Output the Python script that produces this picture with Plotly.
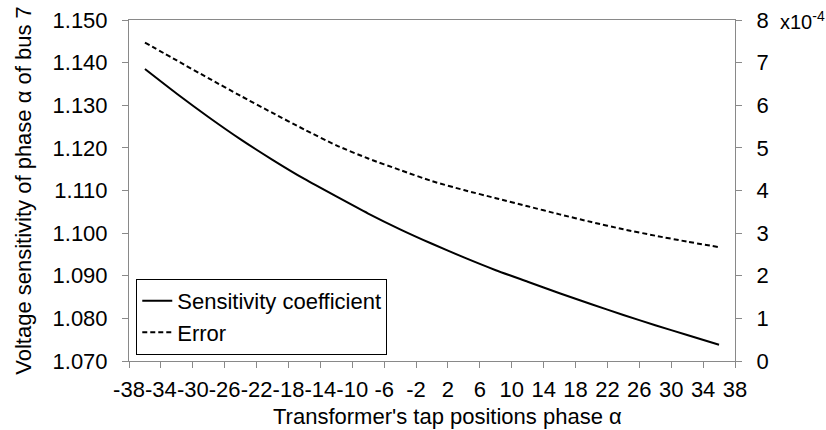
import plotly.graph_objects as go

# Tap positions of the transformer (phase a)
tap_positions = [-36, -32, -28, -24, -20, -16, -12, -8, -4, 0,
                 4, 8, 12, 16, 20, 24, 28, 32, 36]

# Voltage sensitivity coefficient of phase a, bus 7
sensitivity = [1.1385, 1.1327, 1.1272, 1.1220, 1.1172, 1.1127, 1.1086,
               1.1046, 1.1009, 1.0975, 1.0943, 1.0913, 1.0886, 1.0859,
               1.0833, 1.0808, 1.0784, 1.0761, 1.0738]

# Approximation error, in units of 1e-4
error_x1e4 = [7.47, 7.05, 6.63, 6.22, 5.82, 5.43, 5.06, 4.75, 4.48, 4.22,
              4.01, 3.82, 3.63, 3.44, 3.26, 3.09, 2.94, 2.80, 2.67]

x_ticks = list(range(-38, 39, 4))
left_ticks = [1.07 + 0.01 * i for i in range(9)]
right_ticks = list(range(0, 9))

FONT = "Liberation Sans, Arial, sans-serif"
FS = 22
AXIS_GRAY = "#898989"

fig = go.Figure()
fig.add_trace(go.Scatter(
    x=tap_positions, y=sensitivity, mode="lines",
    name="Sensitivity coefficient",
    line=dict(color="black", width=2, shape="spline", smoothing=0.6),
))
fig.add_trace(go.Scatter(
    x=tap_positions, y=error_x1e4, mode="lines",
    name="Error", yaxis="y2",
    line=dict(color="black", width=2, dash="5px,3px",
              shape="spline", smoothing=0.6),
))

fig.update_layout(
    width=826, height=430,
    margin=dict(l=129, r=91, t=20, b=69, autoexpand=False),
    paper_bgcolor="white", plot_bgcolor="white",
    font=dict(family=FONT, size=FS, color="black"),
    showlegend=True,
    legend=dict(
        x=0.012, y=0.018, xanchor="left", yanchor="bottom",
        bgcolor="white", bordercolor="black", borderwidth=1,
        font=dict(family=FONT, size=FS, color="black"),
        tracegroupgap=0, itemwidth=30,
    ),
    xaxis=dict(
        range=[-38, 38], tickvals=x_ticks, ticktext=[str(v) for v in x_ticks],
        tickangle=0, automargin=False,
        showgrid=False, zeroline=False,
        showline=True, linecolor=AXIS_GRAY, linewidth=1, mirror=True,
        ticks="outside", ticklen=6, tickcolor=AXIS_GRAY,
        ticklabelstandoff=3,
        tickfont=dict(size=FS),
    ),
    yaxis=dict(
        range=[1.07, 1.15], tickvals=left_ticks,
        ticktext=[f"{v:.3f}" for v in left_ticks],
        automargin=False,
        showgrid=False, zeroline=False,
        showline=True, linecolor=AXIS_GRAY, linewidth=1,
        ticks="outside", ticklen=6, tickcolor=AXIS_GRAY,
        ticklabelstandoff=10,
        tickfont=dict(size=FS),
        title=dict(text="Voltage sensitivity of phase α of bus 7", standoff=14,
                   font=dict(size=FS)),
    ),
    yaxis2=dict(
        range=[0, 8], tickvals=right_ticks,
        ticktext=[str(v) for v in right_ticks],
        overlaying="y", side="right", automargin=False,
        showgrid=False, zeroline=False,
        showline=True, linecolor=AXIS_GRAY, linewidth=1,
        ticks="outside", ticklen=6, tickcolor=AXIS_GRAY,
        ticklabelstandoff=10,
        tickfont=dict(size=FS),
    ),
    annotations=[
        # exponent of the secondary axis
        dict(text="x10<sup>-4</sup>", xref="paper", yref="paper",
             x=1.071, y=1.0, xanchor="left", yanchor="middle",
             showarrow=False, font=dict(family=FONT, size=20, color="black")),
        # x-axis title
        dict(text="Transformer's tap positions phase α", xref="paper",
             yref="paper", x=0.525, y=-0.1615, xanchor="center",
             yanchor="middle", showarrow=False,
             font=dict(family=FONT, size=FS, color="black")),
    ],
)

fig.write_html("out.html")
